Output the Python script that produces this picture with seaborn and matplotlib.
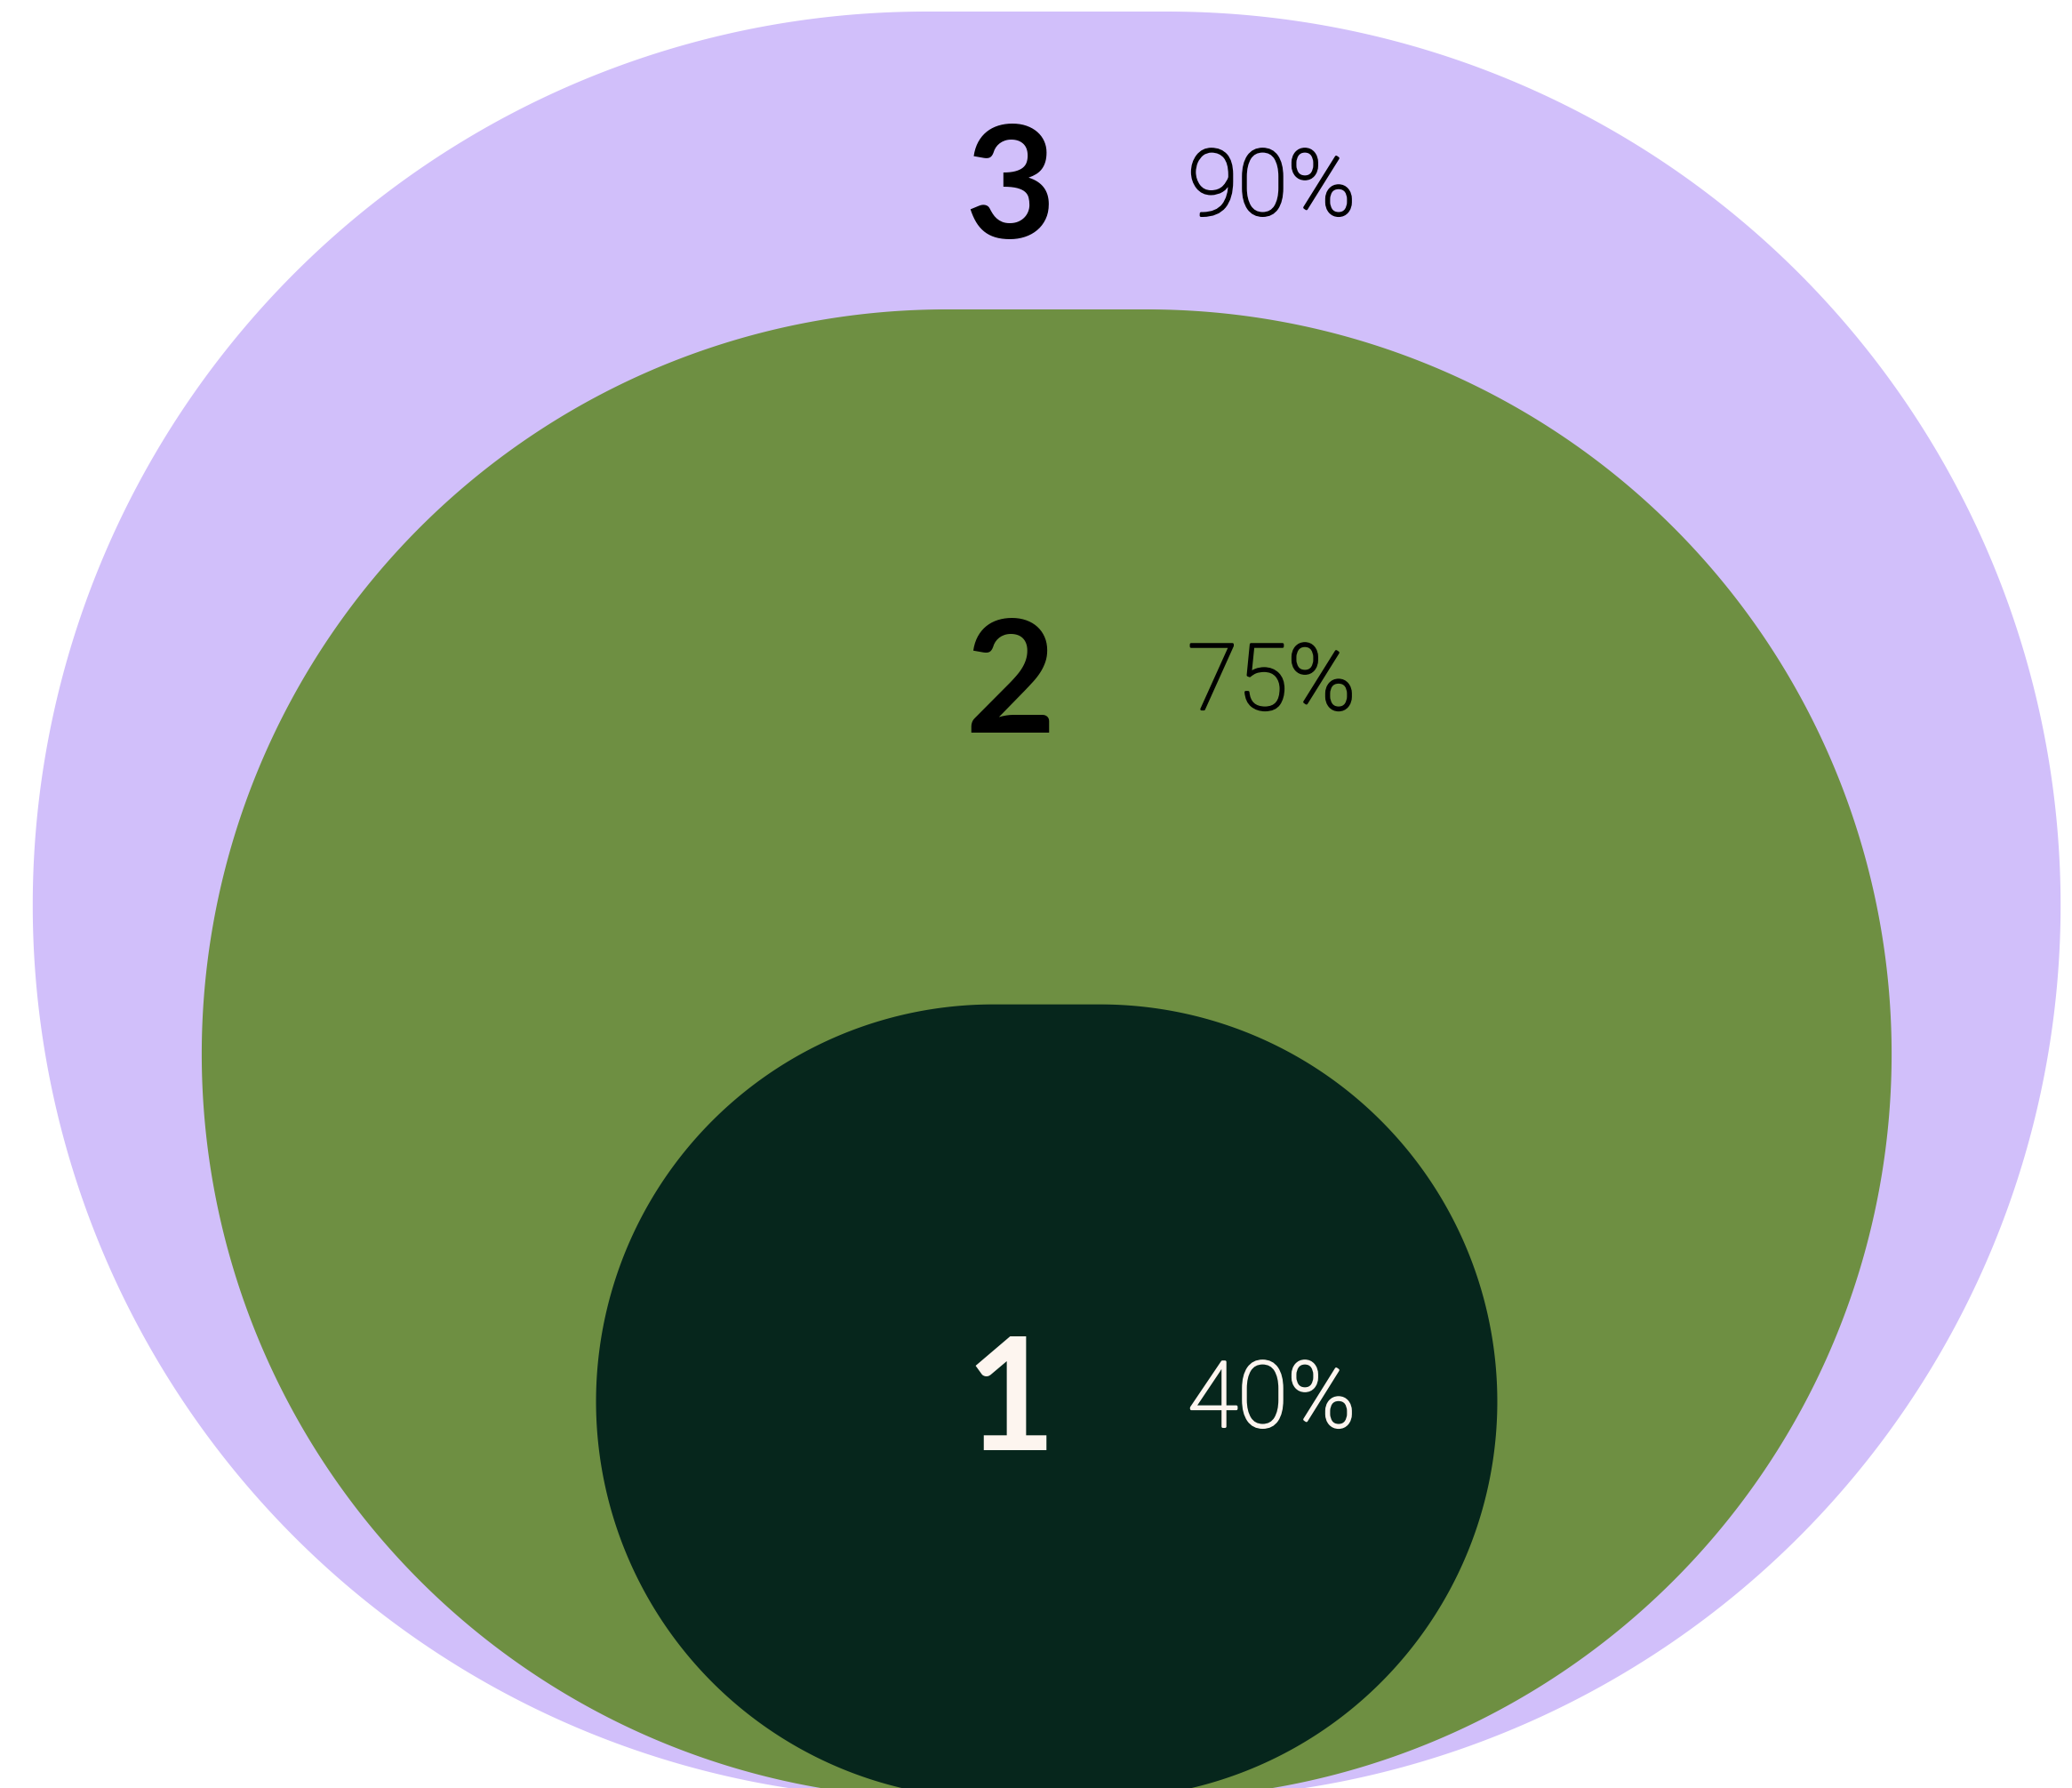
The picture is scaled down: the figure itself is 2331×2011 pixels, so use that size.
import numpy as np
import pandas as pd
import seaborn as sns
import matplotlib
matplotlib.use("Agg")
import matplotlib.pyplot as plt
import matplotlib.patheffects as pe
from matplotlib.patches import Polygon

# Nested stages, outermost first
stages = ["3", "2", "1"]
shares = [90, 75, 40]
shares_text = ["90%", "75%", "40%"]
fill_colors = ["#D1BFFA", "#6E8F42", "#06261C"]
text_colors = ["#000000", "#000000", "#FDF5EF"]

df = pd.DataFrame({"stage": stages, "share": shares, "label": shares_text,
                   "fill": fill_colors, "ink": text_colors})

sns.set_theme(style="white")
plt.rcParams["font.family"] = ["Lato", "DejaVu Sans"]

W, H, DPI = 2331, 2011, 100
fig = plt.figure(figsize=(W / DPI, H / DPI), dpi=DPI)
fig.patch.set_facecolor("white")
ax = fig.add_axes([0, 0, 1, 1])

# one data unit (one percentage point of height) in pixels
px_per_unit = 2010 / 90
baseline_gap = 12 / px_per_unit
x_center_px = 1177.5
y_bottom = baseline_gap
ax.set_xlim(-x_center_px / px_per_unit, (W - x_center_px) / px_per_unit)
ax.set_ylim(y_bottom, y_bottom + H / px_per_unit)
ax.set_axis_off()

FLAT_RATIO = 0.135  # straight top/bottom run as a share of shape height


def stadium(height, flat_ratio, n=400):
    r = height / 2.0
    half_flat = height * flat_ratio / 2.0
    t_right = np.linspace(-np.pi / 2, np.pi / 2, n)
    t_left = np.linspace(np.pi / 2, 3 * np.pi / 2, n)
    xr = half_flat + r * np.cos(t_right)
    yr = r + r * np.sin(t_right)
    xl = -half_flat + r * np.cos(t_left)
    yl = r + r * np.sin(t_left)
    return np.column_stack([np.concatenate([xr, xl]), np.concatenate([yr, yl])])


for i, row in df.iterrows():
    ax.add_patch(Polygon(stadium(row["share"], FLAT_RATIO), closed=True,
                         facecolor=row["fill"], edgecolor="none",
                         antialiased=True, zorder=i + 1))

NUM_SIZE = 127
PCT_SIZE = 74
CAP = 0.717
NUM_X = -1.85
PCT_X = 7.1
LABEL_NUDGE = [-1.1, -1.0, 0.1]

# each label sits in the visible part of its band
lower = list(df["share"].iloc[1:]) + [y_bottom]
for i, row in df.iterrows():
    mid = (row["share"] + lower[i]) / 2.0 + LABEL_NUDGE[i]
    num_cap = NUM_SIZE * DPI / 72 * CAP / px_per_unit
    pct_cap = PCT_SIZE * DPI / 72 * 0.711 / px_per_unit
    ax.text(NUM_X, mid - num_cap / 2, row["stage"], ha="center", va="baseline",
            fontsize=NUM_SIZE, fontweight="bold", color=row["ink"], zorder=10)
    ax.text(PCT_X, mid - pct_cap / 2, row["label"], ha="left", va="baseline",
            fontsize=PCT_SIZE, fontweight="light", color=row["ink"],
            family=["Roboto", "DejaVu Sans"], zorder=10,
            path_effects=[pe.withStroke(linewidth=2.0, foreground=row["ink"])])

fig.savefig("out.png", dpi=DPI, facecolor="white")
